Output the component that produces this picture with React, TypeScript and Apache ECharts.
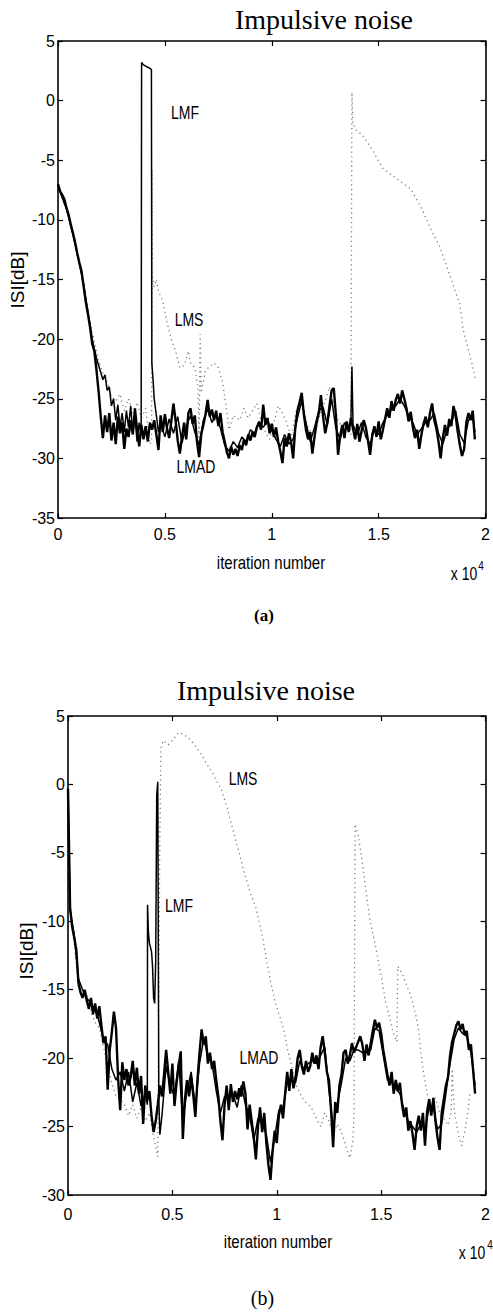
import React, { useEffect, useRef } from "react";
import * as echarts from "echarts";

// x values are in units of 10^4 iterations
const xTicks = [0, 0.5, 1, 1.5, 2];
const yTicksA = [-35, -30, -25, -20, -15, -10, -5, 0, 5];
const yTicksB = [-30, -25, -20, -15, -10, -5, 0, 5];
const STEP = 0.01;

// ---------- (a) ----------
const lmadA = [
  -7.0, -7.6, -7.9, -8.3, -9.0, -9.6, -10.4, -11.1, -11.9, -12.8,
  -13.6, -14.3, -15.6, -16.9, -17.9, -19.0, -20.4, -21.0, -22.6, -24.4,
  -26.5, -28.3, -26.4, -27.8, -26.2, -28.5, -27.0, -28.8, -26.5, -27.9,
  -27.0, -29.2, -27.5, -28.2, -26.8, -28.0, -25.8, -27.6, -29.0, -27.2,
  -28.4, -27.3, -28.6, -27.0, -27.6, -26.8, -28.0, -29.3, -26.4, -27.8,
  -26.3, -27.5, -28.3, -26.9, -25.4, -26.8, -28.5, -29.6, -28.2, -27.0,
  -28.4, -26.2, -25.8, -27.1, -26.4, -28.6, -29.9, -28.0, -27.2, -26.3,
  -25.1, -26.5, -25.9, -26.8, -26.0, -27.3, -26.2, -27.8, -28.6, -29.5,
  -30.0, -29.0, -29.7, -29.2, -29.8, -28.9, -29.3, -28.4, -28.9, -28.0,
  -28.5, -27.8, -28.2, -27.4, -27.0, -27.6, -25.5, -27.2, -26.6, -27.9,
  -27.1, -28.2, -27.4, -28.6, -29.4, -30.4, -28.3, -29.0, -27.9, -28.6,
  -30.0, -27.4, -26.0, -25.3, -24.5, -26.3, -27.6, -28.4, -27.8, -29.6,
  -28.2, -27.0, -26.2, -24.7, -26.5, -27.9, -27.0, -25.6, -24.3, -24.1,
  -26.4, -29.7, -28.1, -27.2, -28.3, -26.9, -27.8, -26.6, -27.5, -28.4,
  -27.1, -28.6, -27.7, -26.8, -27.4, -28.5, -29.7, -28.0, -27.3, -28.2,
  -26.9, -28.4, -27.6, -26.7, -25.8, -26.6, -25.2, -26.0, -25.1, -24.6,
  -25.4, -24.3, -25.0, -25.8, -26.9, -26.1, -27.4, -28.3, -27.6, -29.2,
  -28.0, -27.1, -26.5, -27.4, -26.2, -25.4, -26.8, -27.5, -28.6, -30.0,
  -28.3, -27.2, -28.1, -26.7, -27.3, -25.6, -26.4, -27.8, -28.9, -29.8,
  -29.2, -27.0, -26.2, -26.8, -26.0, -28.4,
];

const lmfA = [
  [0, -7.2], [0.04, -9.1], [0.08, -12.0], [0.12, -15.4], [0.16, -20.0], [0.18, -21.6],
  [0.2, -22.8], [0.21, -23.4], [0.22, -23.0], [0.23, -24.3], [0.24, -24.0], [0.25, -25.6],
  [0.26, -25.0], [0.27, -26.8], [0.28, -25.5], [0.29, -27.4], [0.3, -26.2], [0.31, -27.8],
  [0.32, -26.0], [0.33, -27.4], [0.34, -25.6], [0.35, -27.9], [0.36, -26.5], [0.37, -28.6],
  [0.38, -27.0], [0.389, -28.0], [0.391, 3.2], [0.4, 3.0], [0.41, 2.9], [0.42, 2.8],
  [0.43, 2.7], [0.437, 2.6], [0.439, -22.0], [0.445, -23.5], [0.45, -25.0], [0.46, -26.4],
  [0.47, -27.8], [0.48, -27.0], [0.5, -28.2], [0.52, -26.7], [0.54, -27.9], [0.56, -26.5],
  [0.58, -28.7], [0.6, -27.3], [0.62, -26.4], [0.64, -27.8], [0.66, -28.9], [0.68, -26.8],
  [0.7, -25.9], [0.72, -27.0], [0.74, -26.3], [0.76, -27.5], [0.78, -28.9], [0.8, -29.4],
  [0.82, -28.6], [0.84, -29.1], [0.86, -28.2], [0.88, -28.6], [0.9, -27.6], [0.92, -27.9],
  [0.94, -26.9], [0.96, -27.4], [0.98, -26.8], [1.0, -27.7], [1.02, -28.4], [1.04, -29.0],
  [1.06, -28.0], [1.08, -28.8], [1.1, -28.4], [1.12, -26.6], [1.14, -25.2], [1.16, -27.0],
  [1.18, -28.6], [1.2, -27.4], [1.22, -26.0], [1.24, -25.7], [1.26, -27.2], [1.28, -25.0],
  [1.3, -27.5], [1.32, -28.4], [1.34, -27.0], [1.36, -27.6], [1.37, -27.0], [1.375, -22.3],
  [1.38, -27.2], [1.4, -28.0], [1.42, -27.0], [1.44, -28.2], [1.46, -28.8], [1.48, -27.6],
  [1.5, -28.0], [1.52, -27.0], [1.54, -26.4], [1.56, -25.9], [1.58, -25.6], [1.6, -25.0],
  [1.62, -25.6], [1.64, -26.4], [1.66, -27.0], [1.68, -28.0], [1.7, -27.5], [1.72, -27.0],
  [1.74, -26.8], [1.76, -26.2], [1.78, -27.9], [1.8, -28.8], [1.82, -27.6], [1.84, -27.0],
  [1.86, -26.0], [1.88, -28.0], [1.9, -28.7], [1.92, -26.8], [1.94, -26.6], [1.95, -27.8],
];

const lmsA = [
  [0, -7.1], [0.05, -9.8], [0.1, -13.5], [0.15, -18.6], [0.19, -21.8], [0.21, -22.8],
  [0.23, -23.6], [0.25, -24.8], [0.27, -25.2], [0.29, -24.6], [0.31, -26.0], [0.33, -25.0],
  [0.35, -26.2], [0.37, -25.3], [0.39, -26.6], [0.41, -25.8], [0.43, -28.8], [0.438, -28.6],
  [0.44, -5.8], [0.442, -14.7], [0.45, -15.6], [0.46, -15.0], [0.47, -16.0], [0.49, -16.8],
  [0.51, -18.6], [0.53, -20.0], [0.55, -21.0], [0.57, -22.4], [0.59, -22.2], [0.61, -21.0],
  [0.62, -22.0], [0.64, -22.4], [0.655, -24.0], [0.66, -28.8], [0.665, -19.6], [0.67, -24.5],
  [0.69, -22.6], [0.71, -22.3], [0.73, -22.0], [0.75, -22.4], [0.77, -23.6], [0.785, -25.5],
  [0.8, -27.6], [0.82, -26.4], [0.85, -26.8], [0.87, -25.8], [0.89, -26.6], [0.91, -26.0],
  [0.93, -25.4], [0.95, -26.8], [0.97, -27.8], [0.99, -28.4], [1.01, -27.0], [1.03, -25.6],
  [1.05, -26.2], [1.07, -27.0], [1.09, -28.2], [1.11, -26.4], [1.13, -25.0], [1.15, -26.2],
  [1.17, -27.4], [1.19, -28.0], [1.21, -27.2], [1.23, -26.0], [1.25, -25.2], [1.27, -24.0],
  [1.29, -25.4], [1.31, -26.8], [1.33, -27.4], [1.35, -27.0], [1.37, -28.0], [1.375, 0.7],
  [1.38, -2.0], [1.4, -2.6], [1.42, -2.8], [1.47, -4.1], [1.5, -5.1], [1.52, -5.7],
  [1.61, -6.9], [1.65, -7.4], [1.7, -9.0], [1.75, -11.0], [1.785, -12.2], [1.83, -14.5],
  [1.88, -17.1], [1.895, -19.2], [1.94, -22.3], [1.955, -23.5],
];

// ---------- (b) ----------
const lmadB = [
  -0.3, -9.0, -10.4, -11.2, -12.1, -14.5, -15.2, -15.6, -15.0, -15.8,
  -16.4, -15.6, -16.8, -16.0, -17.1, -16.2, -17.6, -18.9, -18.4, -22.3,
  -19.4, -18.1, -16.6, -17.8, -21.5, -23.8, -20.3, -21.6, -20.8, -22.0,
  -21.4, -20.2, -22.0, -20.7, -22.6, -21.3, -24.8, -22.0, -23.1, -22.4,
  -24.2, -25.4, -24.6, -23.4, -22.0, -22.8, -21.2, -19.4, -21.0, -22.6,
  -20.4, -23.5, -21.8, -20.6, -19.5, -25.9, -23.0, -21.6, -22.8, -21.4,
  -22.7, -24.3, -21.6, -19.6, -17.9, -19.0, -18.4, -20.4, -19.6, -20.8,
  -20.2, -21.6, -22.8, -24.6, -26.0, -23.4, -22.0, -23.8, -21.9, -23.2,
  -22.4, -23.0, -22.2, -22.8, -21.7, -22.6, -25.2, -23.4, -24.6, -25.8,
  -27.4, -25.0, -23.6, -25.4, -24.0, -26.2, -27.8, -28.9, -26.8, -25.3,
  -26.2, -24.2, -23.4, -24.4, -22.6, -21.0, -22.4, -20.8, -22.2, -21.4,
  -20.0, -19.4, -20.6, -21.2, -20.2, -21.0, -20.6, -19.6, -20.4, -19.8,
  -20.8, -19.2, -18.4, -19.6, -21.0, -21.6, -23.8, -26.5, -23.2, -24.0,
  -22.0, -21.2, -19.6, -19.4, -20.4, -19.8, -18.9, -19.6, -19.2, -18.8,
  -18.4, -19.0, -20.2, -19.0, -19.8, -18.9, -18.0, -17.2, -17.8, -17.4,
  -18.2, -19.4, -20.3, -21.2, -22.0, -21.0, -22.6, -21.6, -22.4, -21.8,
  -23.4, -24.3, -23.6, -25.3, -24.6, -25.5, -26.7, -25.0, -24.2, -25.3,
  -24.0, -26.4, -23.9, -23.0, -24.2, -22.9, -24.6, -25.8, -26.7, -24.0,
  -23.0, -22.0, -21.4, -19.8, -18.8, -18.2, -17.6, -17.3, -17.9, -17.5,
  -18.3, -18.0, -19.4, -19.0, -20.8, -22.6,
];

const lmfB = [
  [0, -0.3], [0.01, -9.2], [0.03, -11.0], [0.05, -14.2], [0.08, -15.4], [0.11, -16.0],
  [0.14, -16.8], [0.17, -18.6], [0.19, -19.0], [0.21, -20.8], [0.23, -21.6], [0.25, -21.0],
  [0.27, -22.4], [0.29, -21.0], [0.31, -23.2], [0.33, -21.8], [0.35, -23.5], [0.37, -22.6],
  [0.38, -23.4], [0.381, -8.8], [0.385, -10.8], [0.39, -11.6], [0.4, -12.2], [0.405, -13.3],
  [0.41, -15.6], [0.415, -16.0], [0.42, -13.0], [0.425, -0.8], [0.43, 0.2], [0.435, -23.0],
  [0.44, -25.6], [0.45, -24.2], [0.47, -20.6], [0.49, -22.0], [0.51, -22.8], [0.53, -20.2],
  [0.55, -24.6], [0.57, -22.4], [0.59, -21.0], [0.61, -23.6], [0.63, -20.4], [0.65, -18.6],
  [0.67, -19.8], [0.69, -20.4], [0.71, -22.4], [0.73, -24.0], [0.75, -22.8], [0.77, -23.0],
  [0.79, -22.6], [0.81, -23.6], [0.83, -22.0], [0.85, -23.4], [0.87, -24.2], [0.89, -26.0],
  [0.91, -24.4], [0.93, -24.8], [0.95, -25.6], [0.97, -27.6], [0.99, -25.8], [1.01, -23.8],
  [1.03, -23.6], [1.05, -21.8], [1.07, -21.6], [1.09, -21.8], [1.11, -20.2], [1.13, -20.8],
  [1.15, -20.4], [1.17, -20.2], [1.19, -20.4], [1.21, -19.8], [1.23, -19.2], [1.25, -22.4],
  [1.27, -25.0], [1.29, -23.4], [1.31, -21.8], [1.33, -20.0], [1.35, -20.2], [1.37, -19.4],
  [1.39, -19.4], [1.41, -19.6], [1.43, -19.6], [1.45, -19.4], [1.47, -17.8], [1.49, -18.0],
  [1.51, -19.8], [1.53, -21.6], [1.55, -21.8], [1.57, -22.2], [1.59, -22.6], [1.61, -23.8],
  [1.63, -24.6], [1.65, -25.0], [1.67, -25.4], [1.69, -24.8], [1.71, -25.2], [1.73, -23.6],
  [1.75, -23.6], [1.77, -25.2], [1.79, -24.8], [1.81, -22.6], [1.83, -20.4], [1.85, -18.6],
  [1.87, -17.8], [1.89, -18.2], [1.91, -18.4], [1.93, -19.6], [1.95, -22.0],
];

const lmsB = [
  [0, -0.3], [0.01, -9.3], [0.03, -11.6], [0.05, -14.8], [0.07, -15.4], [0.09, -15.2],
  [0.11, -16.6], [0.13, -17.4], [0.15, -17.8], [0.17, -19.2], [0.19, -20.6], [0.21, -21.8],
  [0.23, -22.8], [0.25, -23.0], [0.27, -23.4], [0.29, -24.2], [0.31, -23.4], [0.33, -24.4],
  [0.35, -23.6], [0.37, -24.6], [0.39, -24.0], [0.41, -25.8], [0.425, -26.8], [0.43, -27.2],
  [0.435, -15.0], [0.44, -4.0], [0.445, 2.6], [0.455, 3.2], [0.48, 2.9], [0.505, 3.3],
  [0.53, 3.8], [0.56, 3.6], [0.59, 3.2], [0.615, 2.7], [0.64, 2.2], [0.66, 1.6],
  [0.69, 0.9], [0.71, 0.3], [0.735, -0.4], [0.76, -1.6], [0.795, -3.6], [0.825, -5.3],
  [0.845, -6.5], [0.875, -8.0], [0.9, -9.0], [0.93, -11.0], [0.96, -13.6], [0.99, -15.8],
  [1.03, -17.7], [1.055, -19.6], [1.07, -20.5], [1.095, -22.1], [1.13, -23.1], [1.165, -23.6],
  [1.19, -24.4], [1.21, -25.0], [1.23, -24.0], [1.25, -24.6], [1.27, -25.6], [1.29, -24.8],
  [1.31, -25.4], [1.33, -26.4], [1.35, -27.3], [1.365, -26.0], [1.37, -24.0], [1.375, -2.9],
  [1.39, -3.7], [1.405, -5.2], [1.425, -7.5], [1.445, -9.8], [1.47, -11.6], [1.49, -13.2],
  [1.5, -14.0], [1.52, -15.8], [1.54, -17.0], [1.555, -18.0], [1.575, -18.8], [1.58, -13.3],
  [1.6, -13.8], [1.62, -14.6], [1.645, -15.6], [1.665, -16.8], [1.68, -18.0], [1.69, -19.6],
  [1.7, -20.8], [1.72, -22.6], [1.74, -23.6], [1.76, -22.9], [1.78, -24.0], [1.8, -24.4],
  [1.82, -24.9], [1.835, -24.0], [1.84, -20.8], [1.85, -23.8], [1.87, -25.6], [1.885, -26.4],
  [1.9, -25.4], [1.915, -24.0], [1.925, -22.6],
];

const SANS = "'Liberation Sans', Arial, sans-serif";
const SERIF = "'Liberation Serif', 'Times New Roman', serif";

function txt(text: string, x: number, y: number, fontSize: number, fontFamily: string, extra: any = {}) {
  const { rotation, fontWeight, align, scaleX, scaleY, ...rest } = extra;
  return {
    type: "text",
    x,
    y,
    rotation: rotation || 0,
    scaleX: scaleX || 1,
    scaleY: scaleY || 1,
    silent: true,
    style: {
      text,
      fill: "#000",
      fontSize,
      fontFamily,
      fontWeight: fontWeight || "normal",
      align: align || "center",
      verticalAlign: "middle",
      ...rest,
    },
  };
}

export default function App() {
  const ref = useRef<HTMLDivElement>(null);

  useEffect(() => {
    if (!ref.current) return;
    const chart = echarts.init(ref.current, null, { renderer: "svg" });

    const axisLine = { show: true, onZero: false, lineStyle: { color: "#000", width: 1.6 } };
    const tick = { show: true, inside: true, length: 5, lineStyle: { color: "#000", width: 1.2 } };
    const lab = (margin: number) => ({ show: true, color: "#000", fontSize: 16, fontFamily: SANS, margin });

    const mkX = (grid: number, margin: number) => [
      {
        type: "value", gridIndex: grid, min: xTicks[0], max: xTicks[xTicks.length - 1], interval: 0.5,
        position: "bottom", axisLine, axisTick: tick, axisLabel: lab(margin), splitLine: { show: false },
      },
      {
        type: "value", gridIndex: grid, min: xTicks[0], max: xTicks[xTicks.length - 1], interval: 0.5,
        position: "top", axisLine, axisTick: tick, axisLabel: { show: false }, splitLine: { show: false },
      },
    ];
    const mkY = (grid: number, ticks: number[]) => [
      {
        type: "value", gridIndex: grid, min: ticks[0], max: ticks[ticks.length - 1], interval: 5,
        position: "left", axisLine, axisTick: tick, axisLabel: lab(3), splitLine: { show: false },
      },
      {
        type: "value", gridIndex: grid, min: ticks[0], max: ticks[ticks.length - 1], interval: 5,
        position: "right", axisLine, axisTick: tick, axisLabel: { show: false }, splitLine: { show: false },
      },
    ];

    const line = (name: string, data: any[], xi: number, yi: number, color: string, width: number, type: any, z: number) => ({
      name, type: "line", data, xAxisIndex: xi, yAxisIndex: yi, showSymbol: false, symbol: "none",
      silent: true, z, lineStyle: { color, width, type }, emphasis: { disabled: true },
    });

    const toPairs = (vals: number[]) => vals.map((v, i) => [+(i * STEP).toFixed(2), v]);
    const DOT = [1.2, 3.5];
    const SY = { scaleY: 1.25 };

    const option: any = {
      animation: false,
      backgroundColor: "#fff",
      grid: [
        { left: 58, top: 41, width: 428, height: 477 },
        { left: 68, top: 716, width: 426, height: 479 },
      ],
      xAxis: [...mkX(0, 8), ...mkX(1, 11)],
      yAxis: [...mkY(0, yTicksA), ...mkY(1, yTicksB)],
      series: [
        line("LMS", lmsA, 0, 0, "#7a7a7a", 1.3, DOT, 1),
        line("LMF", lmfA, 0, 0, "#000", 1.5, "solid", 2),
        line("LMAD", toPairs(lmadA), 0, 0, "#000", 2.4, "solid", 3),
        line("LMS", lmsB, 2, 2, "#7a7a7a", 1.3, DOT, 1),
        line("LMF", lmfB, 2, 2, "#000", 1.5, "solid", 2),
        line("LMAD", toPairs(lmadB), 2, 2, "#000", 2.4, "solid", 3),
      ],
      graphic: [
        // (a)
        txt("Impulsive noise", 324, 19, 28, SERIF),
        txt("ISI[dB]", 17.5, 280, 19, SANS, { rotation: Math.PI / 2 }),
        txt("iteration number", 271, 563, 15, SANS, SY),
        txt("x 10", 464, 574, 14, SANS, SY),
        txt("4", 481, 566, 10, SANS, SY),
        txt("(a)", 264, 615, 17, SERIF, { fontWeight: "bold" }),
        txt("LMF", 185, 113, 14, SANS, SY),
        txt("LMS", 189, 320, 14, SANS, SY),
        txt("LMAD", 196, 467, 14, SANS, SY),
        // (b)
        txt("Impulsive noise", 266, 690, 28, SERIF),
        txt("ISI[dB]", 26.5, 951, 19, SANS, { rotation: Math.PI / 2 }),
        txt("iteration number", 278, 1242, 15, SANS, SY),
        txt("x 10", 472, 1253, 14, SANS, SY),
        txt("4", 490, 1245, 10, SANS, SY),
        txt("(b)", 262.5, 1298, 20, SERIF),
        txt("LMS", 243, 779, 14, SANS, SY),
        txt("LMF", 179, 906, 14, SANS, SY),
        txt("LMAD", 259, 1058, 14, SANS, SY),
      ],
    };

    chart.setOption(option);
    return () => chart.dispose();
  }, []);

  return (
    <div
      ref={ref}
      style={{ position: "absolute", left: 0, top: 0, width: 493, height: 1312, background: "#fff" }}
    />
  );
}
